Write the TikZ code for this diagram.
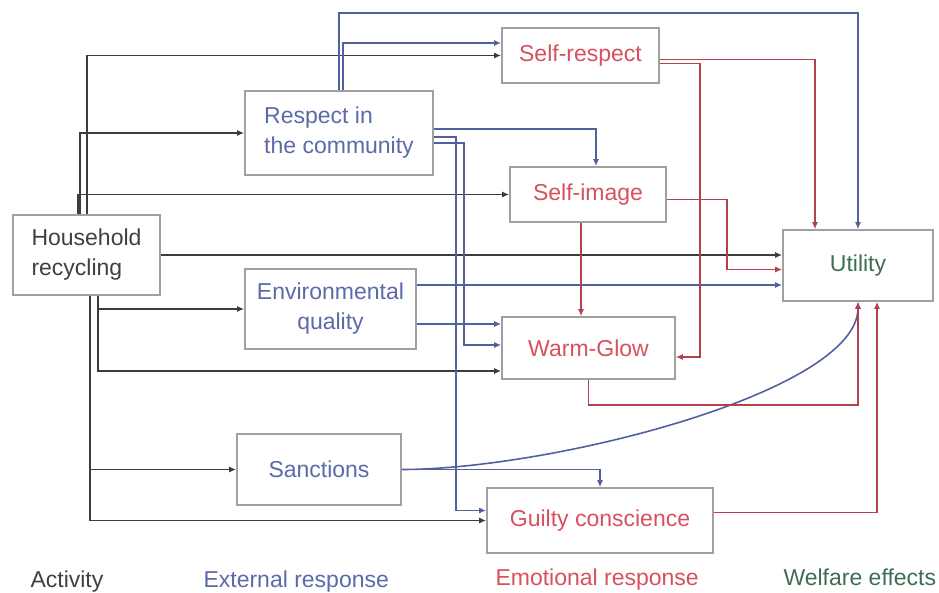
\documentclass[tikz,border=0pt]{standalone}
\usepackage{fontspec}
\setmainfont{Liberation Sans}
\usetikzlibrary{arrows.meta}
\definecolor{wire}{HTML}{3C3C3C}
\definecolor{frame}{HTML}{A0A0A0}
\definecolor{extline}{HTML}{52619E}
\definecolor{exttext}{HTML}{5B6AA8}
\definecolor{emoline}{HTML}{B2404E}
\definecolor{emotext}{HTML}{D8505C}
\definecolor{welftext}{HTML}{3E6E52}
\definecolor{acttext}{HTML}{404040}
\tikzset{
  flow/.style={-{Latex[length=7pt,width=6pt]},line width=1.6pt,wire},
  extflow/.style={flow,extline},
  emoflow/.style={flow,emoline},
  box/.style={draw=frame,line width=1.6pt,inner sep=0pt,align=center},
  labeltext/.style={anchor=base west}
}

\begin{document}
\begin{tikzpicture}[x=1pt,y=-1pt,font=\fontsize{23}{30}\selectfont]
\useasboundingbox (0,0) rectangle (939,593);
\node[box,minimum width=147pt,minimum height=80pt,align=left,text=acttext] (house) at (86.5,255) {Household\\recycling};
\node[box,minimum width=188pt,minimum height=84pt,align=left,text=exttext] (resp) at (339,133) {Respect in\\the community};
\node[box,minimum width=171pt,minimum height=80pt,text=exttext] (env) at (330.5,309) {Environmental\\quality};
\node[box,minimum width=164pt,minimum height=71pt,text=exttext] (sanc) at (319,469.5) {Sanctions};
\node[box,minimum width=157pt,minimum height=55pt,text=emotext] (srsp) at (580.5,55.5) {Self-respect};
\node[box,minimum width=156pt,minimum height=55pt,text=emotext] (simg) at (588,194.5) {Self-image};
\node[box,minimum width=173pt,minimum height=62pt,text=emotext] (warm) at (588.5,348) {Warm-Glow};
\node[box,minimum width=226pt,minimum height=65pt,text=emotext] (guilt) at (600,520.5) {Guilty conscience};
\node[box,minimum width=150pt,minimum height=71pt,text=welftext] (util) at (858,265.5) {Utility};
\coordinate (ceiling) at (0,13);

\draw[flow] ([xshift=0.5]house.north) |- (srsp.west);
\draw[flow] ([xshift=-6.5]house.north) |- (resp.west);
\draw[flow] ([xshift=-8.5]house.north) |- (simg.west);
\draw[flow] (house.east) -- ([yshift=10.5]util.west);
\draw[flow] ([xshift=11.5]house.south) |- (env.west);
\draw[flow] ([xshift=11.5]house.south) |- ([yshift=-23]warm.west);
\draw[flow] ([xshift=3.5]house.south) |- (sanc.west);
\draw[flow] ([xshift=3.5]house.south) |- (guilt.west);

\draw[extflow] (resp.north) -- (resp.north |- ceiling) -| (util.north);
\draw[extflow] ([xshift=4]resp.north) |- ([yshift=12.5]srsp.west);
\draw[extflow] ([yshift=4]resp.east) -| ([xshift=8]simg.north);
\draw[extflow] ([yshift=-4]resp.east) -- ++(22,0) |- ([yshift=10]guilt.west);
\draw[extflow] ([yshift=-10]resp.east) -- ++(30,0) |- ([yshift=3]warm.west);
\draw[extflow] ([yshift=24]env.east) -- ([yshift=-19.5]util.west);
\draw[extflow] ([yshift=-15]env.east) -- ([yshift=24]warm.west);
\draw[extflow] (sanc.east) -| (guilt.north);
\draw[extflow] (sanc.east) .. controls +(150,0) and +(0,90) .. (util.south);

\draw[emoflow] ([yshift=-4]srsp.east) -| ([xshift=-43]util.north);
\draw[emoflow] ([yshift=-8]srsp.east) -- ++(40,0) |- ([yshift=-9]warm.east);
\draw[emoflow] ([yshift=-5]simg.east) -- ++(60,0) |- ([yshift=-4]util.west);
\draw[emoflow] ([xshift=-7]simg.south) -- ([xshift=-7.5]warm.north);
\draw[emoflow] (warm.south) -- ++(0,25) -| (util.south);
\draw[emoflow] ([yshift=8]guilt.east) -| ([xshift=19]util.south);

\node[labeltext,text=acttext] (actlab) at (27,587) {Activity};
\node[labeltext,text=exttext] (extlab) at (200,587) {External response};
\node[labeltext,text=emotext] (emolab) at (492,585) {Emotional response};
\node[labeltext,text=welftext] (welflab) at (780,585) {Welfare effects};
\end{tikzpicture}
\end{document}
